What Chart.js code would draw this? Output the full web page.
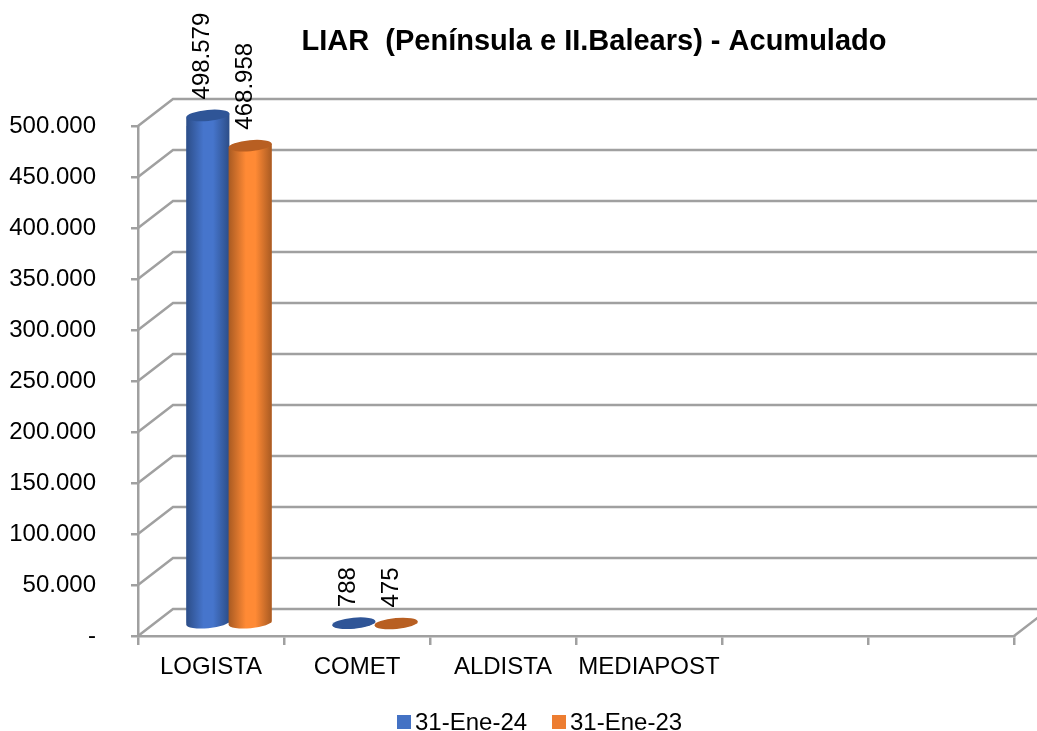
<!DOCTYPE html>
<html>
<head>
<meta charset="utf-8">
<title>LIAR</title>
<script src="https://cdn.jsdelivr.net/npm/chart.js@4"></script>
<style>
  html, body { margin: 0; padding: 0; background: #fff; }
  canvas { display: block; }
</style>
</head>
<body>
<canvas id="chart" width="1037" height="731"></canvas>
<script>
const chartTitle = 'LIAR  (Península e II.Balears) - Acumulado';
const categories = ['LOGISTA', 'COMET', 'ALDISTA', 'MEDIAPOST', '', ''];
const seriesNames = ['31-Ene-24', '31-Ene-23'];
const values2024 = [498579, 788, null, null, null, null];
const values2023 = [468958, 475, null, null, null, null];
const valueLabels2024 = ['498.579', '788', '', '', '', ''];
const valueLabels2023 = ['468.958', '475', '', '', '', ''];
const yTickLabels = ['-', '50.000', '100.000', '150.000', '200.000', '250.000', '300.000', '350.000', '400.000', '450.000', '500.000'];

const FONT = '"Liberation Sans", Arial, sans-serif';
const GRID = '#a0a0a0';
// how far the back wall sits behind the front plane
const DEPTH_X = 35;
const DEPTH_Y = -27;
// the bars stand half way back
const BAR_DX = 18;
const BAR_DY = -12;

const palette = [
    { edge: '#2c4d87', mid: '#4675cc', top: '#2f5597' },
    { edge: '#a85a22', mid: '#ff8a35', top: '#b85f22' }
];
const valueLabels = [valueLabels2024, valueLabels2023];

function drawCylinder(ctx, el, colors) {
    const rx = el.width / 2 + 0.5;
    const ry = 5.5;
    const rot = -0.09;
    const sx = rx * Math.cos(rot);
    const sy = rx * Math.sin(rot);
    const left = el.x - rx;
    const right = el.x + rx;

    const grad = ctx.createLinearGradient(left, 0, right, 0);
    grad.addColorStop(0, colors.edge);
    grad.addColorStop(0.4, colors.mid);
    grad.addColorStop(0.62, colors.mid);
    grad.addColorStop(1, colors.edge);

    ctx.beginPath();
    ctx.moveTo(el.x - sx, el.y - sy);
    ctx.lineTo(el.x - sx, el.base - sy);
    ctx.ellipse(el.x, el.base, rx, ry, rot, Math.PI, 0, true);
    ctx.lineTo(el.x + sx, el.y + sy);
    ctx.closePath();
    ctx.fillStyle = grad;
    ctx.fill();

    ctx.beginPath();
    ctx.ellipse(el.x, el.y, rx, ry, rot, 0, Math.PI * 2);
    ctx.fillStyle = colors.top;
    ctx.fill();
}

const look3d = {
    id: 'look3d',
    afterLayout(chart) {
        // title is not centred on the canvas in the original
        chart.titleBlock.left += 87;
        chart.titleBlock.right += 87;
    },
    afterDatasetsUpdate(chart) {
        chart.data.datasets.forEach((ds, i) => {
            chart.getDatasetMeta(i).data.forEach((el) => {
                el.x += BAR_DX;
                el.y += BAR_DY;
                el.base += BAR_DY;
            });
        });
    },
    beforeDatasetsDraw(chart) {
        const { ctx, scales: { y }, chartArea } = chart;
        ctx.save();
        ctx.strokeStyle = GRID;
        ctx.lineWidth = 2.5;
        y.ticks.forEach((t) => {
            const py = y.getPixelForValue(t.value);
            ctx.beginPath();
            ctx.moveTo(chartArea.left, py);
            ctx.lineTo(chartArea.left + DEPTH_X, py + DEPTH_Y);
            ctx.lineTo(chartArea.right + DEPTH_X, py + DEPTH_Y);
            ctx.stroke();
        });
        // floor edge on the right
        ctx.beginPath();
        ctx.moveTo(chartArea.right, chartArea.bottom);
        ctx.lineTo(chartArea.right + DEPTH_X, chartArea.bottom + DEPTH_Y);
        ctx.stroke();
        ctx.restore();
    },
    afterDatasetsDraw(chart) {
        const { ctx } = chart;
        ctx.save();
        chart.data.datasets.forEach((ds, i) => {
            chart.getDatasetMeta(i).data.forEach((el, j) => {
                if (ds.data[j] === null) return;
                drawCylinder(ctx, el, palette[i]);
            });
        });
        // value labels, rotated
        ctx.fillStyle = '#000';
        ctx.font = '24px ' + FONT;
        ctx.textAlign = 'left';
        ctx.textBaseline = 'middle';
        chart.data.datasets.forEach((ds, i) => {
            chart.getDatasetMeta(i).data.forEach((el, j) => {
                if (!valueLabels[i][j]) return;
                ctx.save();
                ctx.translate(el.x - 5, el.y - 16);
                ctx.rotate(-Math.PI / 2);
                ctx.fillText(valueLabels[i][j], 0, 0);
                ctx.restore();
            });
        });
        ctx.restore();
    },
    afterDraw(chart) {
        const { ctx } = chart;
        ctx.save();
        ctx.font = '24px ' + FONT;
        ctx.textAlign = 'left';
        ctx.textBaseline = 'middle';
        let x = 397;
        chart.data.datasets.forEach((ds, i) => {
            ctx.fillStyle = ds.backgroundColor;
            ctx.fillRect(x, 715, 14, 14);
            ctx.fillStyle = '#000';
            ctx.fillText(ds.label, x + 18, 723);
            x += 155;
        });
        ctx.restore();
    }
};

new Chart(document.getElementById('chart'), {
    type: 'bar',
    data: {
        labels: categories,
        datasets: [
            { label: seriesNames[0], data: values2024, backgroundColor: '#4472c4' },
            { label: seriesNames[1], data: values2023, backgroundColor: '#ed7d31' }
        ]
    },
    options: {
        responsive: false,
        animation: false,
        categoryPercentage: 0.58,
        barPercentage: 1,
        layout: { padding: { right: 23 } },
        plugins: {
            legend: { display: false },
            tooltip: { enabled: false },
            title: {
                display: true,
                text: chartTitle,
                color: '#000',
                font: { family: FONT, size: 29, weight: 'bold' },
                padding: { top: 25, bottom: 66.2 }
            }
        },
        scales: {
            x: {
                afterFit: (s) => { s.height = 95; },
                grid: { offset: true, drawOnChartArea: false, color: GRID, lineWidth: 2.5, tickLength: 9 },
                border: { color: GRID, width: 2.5 },
                ticks: {
                    color: '#000',
                    font: { family: FONT, size: 24 },
                    autoSkip: false,
                    maxRotation: 0,
                    padding: 8
                }
            },
            y: {
                min: 0,
                max: 500000,
                afterFit: (s) => { s.width = 138; },
                grid: { drawOnChartArea: false, color: GRID, lineWidth: 2.5, tickLength: 7 },
                border: { color: GRID, width: 2.5 },
                ticks: {
                    stepSize: 50000,
                    color: '#000',
                    font: { family: FONT, size: 24 },
                    padding: 35,
                    callback: (v, i) => yTickLabels[i]
                }
            }
        }
    },
    plugins: [look3d]
});
</script>
</body>
</html>
